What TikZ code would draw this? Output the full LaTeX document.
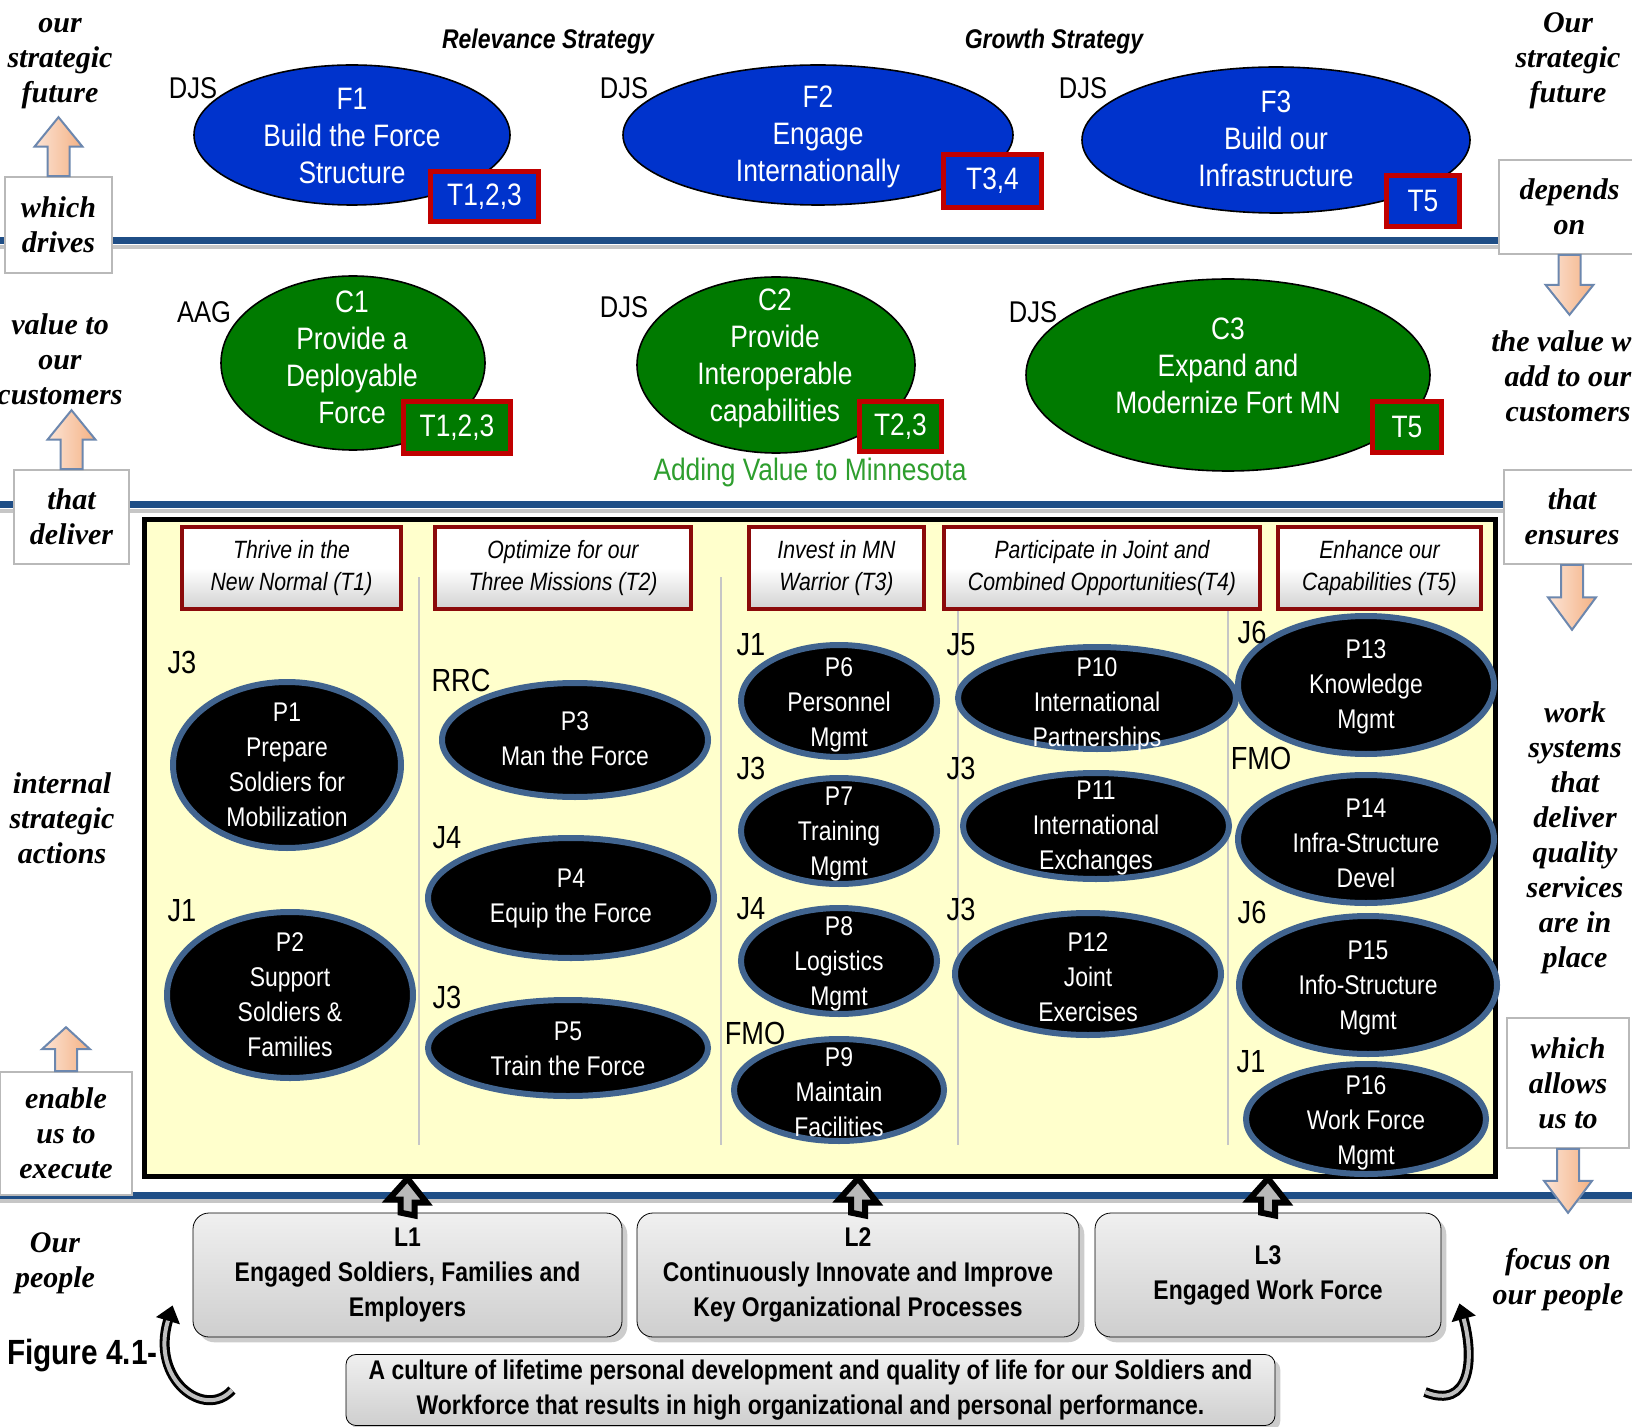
\documentclass[tikz,border=0pt]{standalone}
\usepackage{fontspec}
\setmainfont{Liberation Sans}[FakeStretch=0.85]
\newfontfamily\sidefont{Liberation Serif}
\usetikzlibrary{shapes.geometric,calc,shadows,arrows.meta}

\definecolor{forceblue}{HTML}{0033CC}
\definecolor{capgreen}{HTML}{007A00}
\definecolor{tred}{HTML}{C00000}
\definecolor{lineblue}{HTML}{1F4E86}
\definecolor{pedge}{HTML}{41648F}
\definecolor{panelyellow}{HTML}{FFFFCC}
\definecolor{hdrred}{HTML}{8B0A0A}
\definecolor{addgreen}{HTML}{2E9E2E}
\definecolor{peach}{HTML}{FCE4D6}
\definecolor{arrorange}{HTML}{F4B183}
\definecolor{arredge}{HTML}{6C87AE}

\tikzset{
  fell/.style={ellipse, draw=black, thick, fill=forceblue, inner sep=0pt},
  cell/.style={ellipse, draw=black, thick, fill=capgreen, inner sep=0pt},
  etext/.style={text=white, align=center, font=\fontsize{15.5}{18.5}\selectfont},
  tbox/.style={draw=tred, line width=2.5pt, text=white, inner sep=0pt, font=\fontsize{15.5}{18.5}\selectfont},
  owner/.style={font=\fontsize{15}{18}\selectfont},
  jlab/.style={font=\fontsize{16}{18}\selectfont},
  proc/.style={ellipse, draw=pedge, line width=3pt, fill=black, inner sep=0pt},
  ptext/.style={text=white, align=center, font=\fontsize{13.5}{17.5}\selectfont},
  thead/.style={draw=hdrred, line width=2pt, top color=white, bottom color=gray!35, middle color=white, align=center, inner sep=0pt, font=\itshape\fontsize{12.5}{16}\selectfont},
  sidebox/.style={draw=gray!55, fill=white, line width=0.8pt, align=center, inner sep=0pt, font=\sidefont\bfseries\itshape\fontsize{15}{17.5}\selectfont},
  sidetext/.style={align=center, font=\sidefont\bfseries\itshape\fontsize{15}{17.5}\selectfont},
  lbox/.style={draw=black, rounded corners=8pt, top color=gray!12, bottom color=gray!38, drop shadow={opacity=0.4}, align=center, inner sep=0pt, font=\bfseries\fontsize{13.5}{17.5}\selectfont},
  sidearrow/.style={draw=arredge, line width=1pt, left color=peach, right color=arrorange},
  liftarrow/.style={draw=black, line width=3pt, fill=gray!55},
  band/.style={lineblue, line width=3.5pt},
  colsep/.style={gray!45, line width=0.6pt},
  curl/.style={line width=5pt, -{Triangle[length=8pt,width=12pt]}, postaction={draw, gray!50, line width=2pt, shorten >=8pt, -}},
}

\newcommand{\bigarrow}[2]{\draw[sidearrow] ($(#1)+(-11,0)$) -- ++(0,{(#2)/2}) -- ++(-13,0) -- ($(#1)+(0,#2)$) -- ++(24,{-(#2)/2}) -- ++(-13,0) -- ++(0,{-(#2)/2}) -- cycle;}

\begin{document}
\begin{tikzpicture}[x=0.5pt,y=-0.5pt]
\useasboundingbox (0,0) rectangle (1632,1427);

\foreach \y in {241,505,1195} {
  \draw[gray!45, line width=2pt] (0,\y+6) -- (1632,\y+6);
  \draw[band] (0,\y) -- (1632,\y);
}

\node[font=\bfseries\itshape\fontsize{13.5}{16}\selectfont] (relev) at (548,42) {Relevance Strategy};
\node[font=\bfseries\itshape\fontsize{13.5}{16}\selectfont] (growth) at (1054,42) {Growth Strategy};

\node[fell, minimum width=158pt, minimum height=70pt] (F1) at (352,135) {};
\node[etext] (F1txt) at (352,136) {F1\\Build the Force\\Structure};
\node[tbox, fill=forceblue, minimum width=54pt, minimum height=25pt] (F1t) at (484.5,196.5) {T1,2,3};
\node[owner] (F1own) at (193,88) {DJS};

\node[fell, minimum width=195pt, minimum height=70pt] (F2) at (818,135) {};
\node[etext] (F2txt) at (818,137) {F2\\Engage\\Internationally};
\node[tbox, fill=forceblue, minimum width=49pt, minimum height=26.5pt] (F2t) at (992.5,181) {T3,4};
\node[owner] (F2own) at (624,88) {DJS};

\node[fell, minimum width=194pt, minimum height=73pt] (F3) at (1276,140) {};
\node[etext] (F3txt) at (1276,139) {F3\\Build our\\Infrastructure};
\node[tbox, fill=forceblue, minimum width=36.5pt, minimum height=25.5pt] (F3t) at (1423,201) {T5};
\node[owner] (F3own) at (1083,88) {DJS};

\node[cell, minimum width=132pt, minimum height=87pt] (C1) at (353,363) {};
\node[etext] (C1txt) at (352,357) {C1\\Provide a\\Deployable\\Force};
\node[tbox, fill=capgreen, minimum width=53.5pt, minimum height=26pt] (C1t) at (457,427.5) {T1,2,3};
\node[owner] (C1own) at (204,312) {AAG};

\node[cell, minimum width=139pt, minimum height=88pt] (C2) at (776,365) {};
\node[etext] (C2txt) at (775,358) {C2\\Provide\\Interoperable\\capabilities};
\node[tbox, fill=capgreen, minimum width=41pt, minimum height=25pt] (C2t) at (900.5,426.5) {T2,3};
\node[owner] (C2own) at (624,307) {DJS};

\node[cell, minimum width=202pt, minimum height=96pt] (C3) at (1228,375) {};
\node[etext] (C3txt) at (1228,366) {C3\\Expand and\\Modernize Fort MN};
\node[tbox, fill=capgreen, minimum width=34.5pt, minimum height=25.5pt] (C3t) at (1407,427) {T5};
\node[owner] (C3own) at (1033,312) {DJS};

\node[text=addgreen, font=\fontsize{15.5}{18}\selectfont] (addval) at (810,472) {Adding Value to Minnesota};

\node[draw, line width=2.5pt, fill=panelyellow, minimum width=675.5pt, minimum height=328pt, inner sep=0pt] (panel) at (819.5,848) {};
\foreach \x/\y in {419/577,721/577,958/609,1228/609}
  \draw[colsep] (\x,\y) -- (\x,1145);

\foreach \n/\x/\w/\txt in {T1/291.5/109.5/{Thrive in the\\New Normal (T1)},
    T2/563/128/{Optimize for our\\Three Missions (T2)},
    T3/836.5/87.5/{Invest in MN\\Warrior (T3)},
    T4/1102/158/{Participate in Joint  and\\Combined Opportunities(T4)},
    T5/1379.5/101.5/{Enhance our\\Capabilities (T5)}}
  \node[thead, minimum width=\w pt, minimum height=40.5pt] (\n) at (\x,568) {\txt};

\foreach \n/\x/\y/\rx/\ry/\ty/\j/\jx/\jy/\txt in {
    P1/287/765/114/83/765/J3/182/662/{P1\\Prepare\\Soldiers for\\Mobilization},
    P2/290/995/123/83/995/J1/182/911/{P2\\Support\\Soldiers \&\\Families},
    P3/575/740/133/57/739/RRC/461/680/{P3\\Man the Force},
    P4/571/898/143/60/899/J4/447/838/{P4\\Equip the Force},
    P5/568/1048/140/48/1049/J3/447/997/{P5\\Train the Force},
    P6/839/701/98/56/705/J1/751/645/{P6\\Personnel\\Mgmt},
    P7/839/831/98/53/834/J3/751/768/{P7\\Training\\Mgmt},
    P8/839/961/98/53/964/J4/751/909/{P8\\Logistics\\Mgmt},
    P9/839/1090/105/51/1092/FMO/755/1033/{P9\\Maintain\\Facilities},
    P10/1097/698/139/51/705/J5/961/645/{P10\\International\\Partnerships},
    P11/1096/826/133/53/828/J3/961/768/{P11\\International\\Exchanges},
    P12/1088/974/133/61/977/J3/961/909/{P12\\Joint\\Exercises},
    P13/1366/685/128/69/687/J6/1252/632/{P13\\Knowledge\\Mgmt},
    P14/1366/839/128/64/843/FMO/1261/758/{P14\\Infra-Structure\\Devel},
    P15/1368/985/129/69/988/J6/1252/912/{P15\\Info-Structure\\Mgmt},
    P16/1366/1119/120/55/1123/J1/1251/1062/{P16\\Work Force\\Mgmt}} {
  \node[proc, minimum width=\rx pt, minimum height=\ry pt] (\n) at (\x,\y) {};
  \node[ptext] (\n txt) at (\x,\ty) {\txt};
  \node[jlab] (\n own) at (\jx,\jy) {\j};
}

\node[lbox, minimum width=214.5pt, minimum height=62pt] (L1) at (407.5,1275) {L1\\Engaged Soldiers, Families and\\Employers};
\node[lbox, minimum width=221pt, minimum height=62pt] (L2) at (858,1275) {L2\\Continuously Innovate and Improve\\Key Organizational Processes};
\node[lbox, minimum width=173pt, minimum height=62pt] (L3) at (1268,1275) {L3\\Engaged Work Force};
\node[lbox, rounded corners=5pt, minimum width=464.5pt, minimum height=35.5pt] (culture) at (810.5,1390) {A culture of lifetime personal development and quality of life for our Soldiers and\\Workforce that results in high organizational and personal performance.};

\foreach \n in {L1,L2,L3}
  \draw[liftarrow] ($(\n.north)+(-7,0)$) -- ++(0,-13) -- ++(-12,0) -- (\n.north |- panel.south) -- ++(19,24) -- ++(-12,0) -- ++(0,13) -- cycle;

\node[sidebox, minimum width=53.5pt, minimum height=48pt] (drives) at (58.5,225) {which\\drives};
\node[sidebox, minimum width=57.5pt, minimum height=47pt] (deliver) at (71.5,517) {that\\deliver};
\node[sidebox, minimum width=66pt, minimum height=61.5pt] (enable) at (66,1133.5) {enable\\us to\\execute};
\node[sidebox, minimum width=70.5pt, minimum height=47pt] (depends) at (1569.5,207) {depends\\on};
\node[sidebox, minimum width=68pt, minimum height=47pt] (ensures) at (1572,517) {that\\ensures};
\node[sidebox, minimum width=61pt, minimum height=65pt] (allows) at (1568,1083) {which\\allows\\us to};

\node[sidetext] (futL) at (60,64) {our\\strategic\\future};
\node[sidetext] (custL) at (60,359) {value to\\our\\customers};
\node[sidetext] (actL) at (62,818) {internal\\strategic\\actions};
\node[sidetext] (peopleL) at (55,1263) {Our\\people};
\node[sidetext] (futR) at (1568,61) {Our\\strategic\\future};
\node[sidetext] (custR) at (1568,376) {the value we\\add to our\\customers};
\node[sidetext] (workR) at (1575,838) {work\\systems\\that\\deliver\\quality\\services\\are in\\place};
\node[sidetext] (focusR) at (1558,1280) {focus on\\our people};

\bigarrow{drives.north}{-59}
\bigarrow{deliver.north}{-59}
\bigarrow{enable.north}{-44}
\bigarrow{depends.south}{60}
\bigarrow{ensures.south}{65}
\bigarrow{allows.south}{64}

\node[anchor=west, font=\bfseries\fontsize{17.5}{20}\selectfont] (figlabel) at (0,1356) {Figure 4.1-};
\coordinate (curlL) at (232,1390);
\coordinate (curlR) at (1425,1392);
\draw[curl] (curlL) .. controls (205,1420) and (150,1380) .. ($(L1.south west)+(-20,-32)$);
\draw[curl] (curlR) .. controls (1470,1410) and (1475,1360) .. ($(L3.south east)+(18,-34)$);
\end{tikzpicture}
\end{document}
